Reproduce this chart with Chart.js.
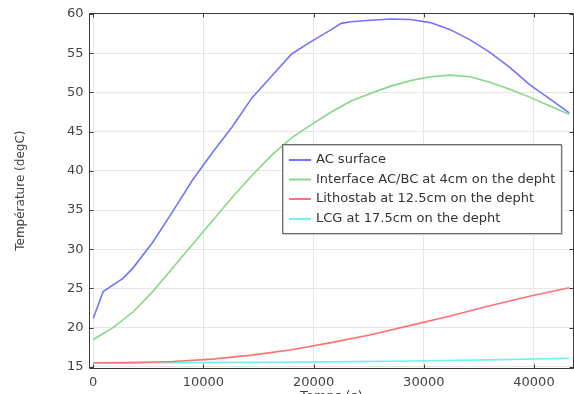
<!DOCTYPE html>
<html>
<head>
<meta charset="utf-8">
<script src="https://cdn.jsdelivr.net/npm/chart.js@4.4.1/dist/chart.umd.min.js"></script>
<style>
html,body{margin:0;padding:0;background:#fff;overflow:hidden;}
#wrap{position:relative;width:574px;height:404px;}
</style>
</head>
<body>
<div id="wrap"><canvas id="c" width="574" height="404"></canvas></div>
<script>
// ---- data ----
const seriesLabels = ["AC surface", "Interface AC/BC at 4cm on the depht", "Lithostab at 12.5cm on the depht", "LCG at 17.5cm on the depht"];
const acTime = [0, 900, 2700, 3600, 5400, 7200, 9000, 10800, 12600, 14400, 16200, 18000, 19800, 21600, 22500, 23400, 25200, 27000, 28800, 30600, 32400, 34200, 36000, 37800, 39600, 41400, 43200];
const acTemp = [21.2, 24.6, 26.3, 27.6, 30.9, 34.8, 38.8, 42.3, 45.6, 49.3, 52.1, 54.9, 56.5, 58.0, 58.8, 59.0, 59.2, 59.35, 59.3, 58.9, 58.0, 56.7, 55.1, 53.2, 51.0, 49.2, 47.4];
const ifTime = [0, 1800, 3600, 5400, 7200, 9000, 10800, 12600, 14400, 16200, 18000, 19800, 21600, 23400, 25200, 27000, 28800, 30600, 32400, 34200, 36000, 37800, 39600, 41400, 43200];
const ifTemp = [18.5, 20.0, 22.0, 24.6, 27.6, 30.6, 33.6, 36.6, 39.4, 42.0, 44.2, 45.9, 47.5, 48.9, 49.9, 50.8, 51.5, 52.0, 52.2, 52.0, 51.3, 50.4, 49.4, 48.3, 47.2];
const liTime = [0, 3600, 7200, 10800, 14400, 18000, 21600, 25200, 28800, 32400, 36000, 39600, 43200];
const liTemp = [15.5, 15.55, 15.7, 16.0, 16.5, 17.2, 18.1, 19.1, 20.3, 21.5, 22.8, 24.0, 25.1];
const lcgTime = [0, 7200, 14400, 21600, 28800, 36000, 43200];
const lcgTemp = [15.55, 15.55, 15.6, 15.65, 15.75, 15.9, 16.1];
const xTickValues = [0, 10000, 20000, 30000, 40000];
const yTickValues = [15, 20, 25, 30, 35, 40, 45, 50, 55, 60];
const xTitle = "Temps (s)";
const yTitle = "Température (degC)";

const colors = ["#7373ff", "#86d886", "#ff7272", "#6ef2f2"];
const FONT = "'DejaVu Sans', sans-serif";

function pts(t, v) { return t.map((x, i) => ({x: x, y: v[i]})); }

const frame = {
  id: 'frame',
  afterDraw(chart) {
    const ctx = chart.ctx, a = chart.chartArea;
    const xs = chart.scales.x, ys = chart.scales.y;
    ctx.save();
    ctx.strokeStyle = '#3a3a3a';
    ctx.lineWidth = 1;
    ctx.beginPath();
    const L = Math.round(a.left) + 0.5, R = Math.round(a.right) - 0.5, T = Math.round(a.top) + 0.5, B = Math.round(a.bottom) - 0.5;
    ctx.rect(L, T, R - L, B - T);
    const tl = 4;
    xTickValues.forEach(v => {
      const px = Math.round(xs.getPixelForValue(v)) + 0.5;
      ctx.moveTo(px, B); ctx.lineTo(px, B - tl);
      ctx.moveTo(px, T); ctx.lineTo(px, T + tl);
    });
    yTickValues.forEach(v => {
      const py = Math.round(ys.getPixelForValue(v)) + 0.5;
      ctx.moveTo(L, py); ctx.lineTo(L + tl, py);
      ctx.moveTo(R, py); ctx.lineTo(R - tl, py);
    });
    ctx.stroke();

    // legend inside plot area
    ctx.font = "13px " + FONT;
    let maxW = 0;
    chart.data.datasets.forEach(d => { maxW = Math.max(maxW, ctx.measureText(d.label).width); });
    const bx = 282.5, by = 144.5, lineX0 = 289, lineX1 = 311, textX = 316;
    const bw = textX + maxW + 6 - bx, bh = 89;
    ctx.fillStyle = '#ffffff';
    ctx.fillRect(bx, by, bw, bh);
    ctx.strokeStyle = '#c8c8c8';
    ctx.strokeRect(bx + 1, by + 1, bw, bh);
    ctx.strokeStyle = '#6e6e6e';
    ctx.strokeRect(bx, by, bw, bh);
    const rows = [160, 179.5, 199, 219];
    chart.data.datasets.forEach((d, i) => {
      ctx.strokeStyle = d.borderColor;
      ctx.lineWidth = 2;
      ctx.beginPath();
      ctx.moveTo(lineX0, rows[i]); ctx.lineTo(lineX1, rows[i]);
      ctx.stroke();
      ctx.fillStyle = '#333333';
      ctx.textBaseline = 'middle';
      ctx.textAlign = 'left';
      ctx.fillText(d.label, textX, rows[i]);
    });
    ctx.restore();
  }
};

new Chart(document.getElementById('c'), {
  type: 'line',
  data: {
    datasets: [
      {label: seriesLabels[0], data: pts(acTime, acTemp), borderColor: colors[0]},
      {label: seriesLabels[1], data: pts(ifTime, ifTemp), borderColor: colors[1]},
      {label: seriesLabels[2], data: pts(liTime, liTemp), borderColor: colors[2]},
      {label: seriesLabels[3], data: pts(lcgTime, lcgTemp), borderColor: colors[3]}
    ].map(d => Object.assign(d, {borderWidth: 1.6, pointRadius: 0, tension: 0, fill: false}))
  },
  options: {
    responsive: false,
    animation: false,
    layout: {padding: 0},
    plugins: {legend: {display: false}, tooltip: {enabled: false}},
    scales: {
      x: {
        type: 'linear',
        min: -432, max: 43632,
        afterBuildTicks: s => { s.ticks = xTickValues.map(v => ({value: v})); },
        afterFit: s => { s.height = 404 - 368.5; },
        grid: {color: '#e6e6e6', drawTicks: false},
        border: {display: false},
        ticks: {color: '#444', font: {family: FONT, size: 13}, padding: 6, maxRotation: 0,
                callback: v => String(v)},
        title: {display: true, text: xTitle, color: '#444', font: {family: FONT, size: 13}, padding: {top: 0, bottom: 0}}
      },
      y: {
        type: 'linear',
        min: 14.8, max: 60.15,
        afterBuildTicks: s => { s.ticks = yTickValues.map(v => ({value: v})); },
        afterFit: s => { s.width = 88.5; },
        grid: {color: '#e6e6e6', drawTicks: false},
        border: {display: false},
        ticks: {color: '#444', font: {family: FONT, size: 13}, padding: 5, callback: v => String(v)},
        title: {display: true, text: yTitle, color: '#444', font: {family: FONT, size: 12}, padding: {top: 14, bottom: 0}}
      }
    }
  },
  plugins: [frame]
});
</script>
</body>
</html>
